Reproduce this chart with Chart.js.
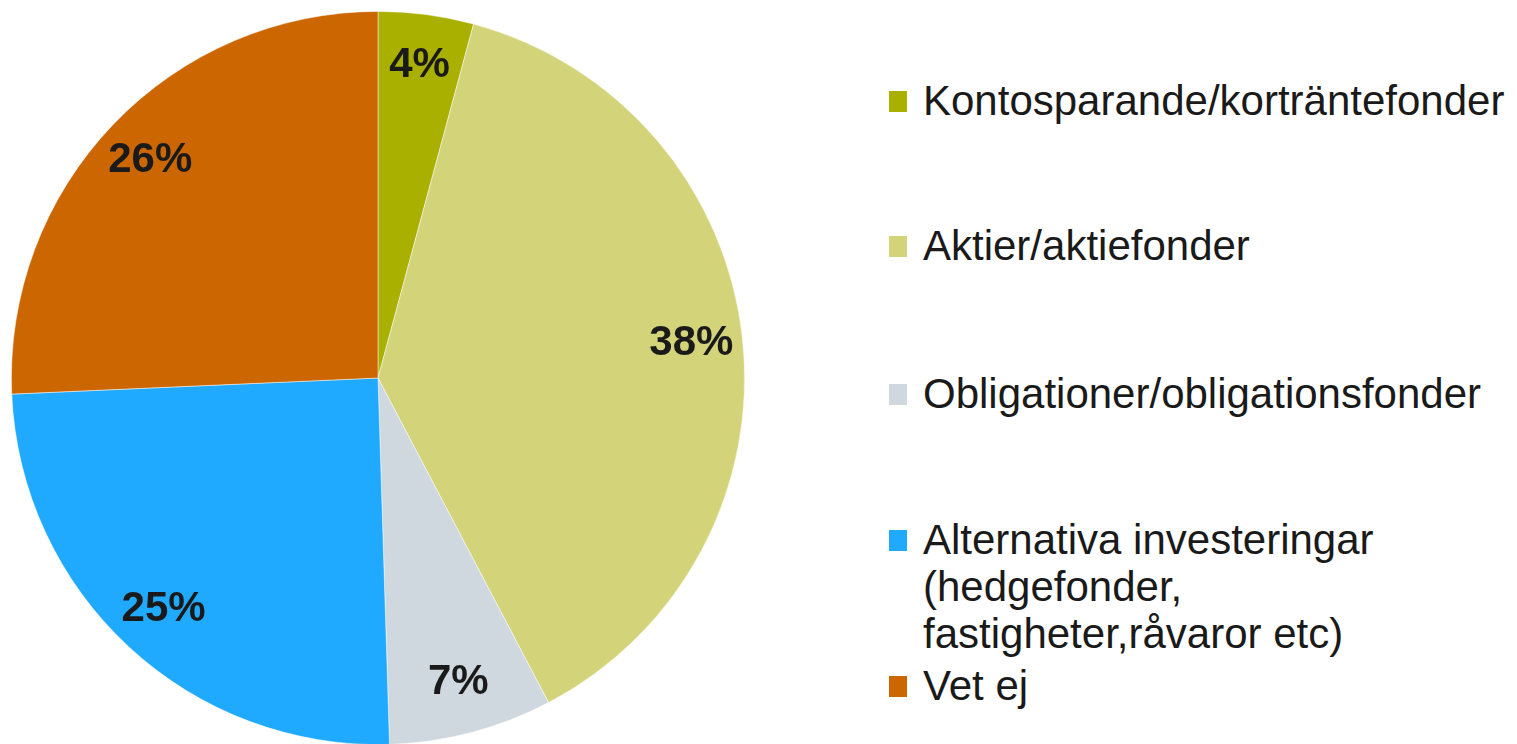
<!DOCTYPE html>
<html>
<head>
<meta charset="utf-8">
<script src="https://cdn.jsdelivr.net/npm/chart.js@4/dist/chart.umd.min.js"></script>
<style>
  html, body { margin: 0; padding: 0; background: #fff; overflow: hidden; }
  body { width: 1517px; height: 744px; position: relative; font-family: "Liberation Sans", Arial, sans-serif; }
  #wrap { position: absolute; left: 11px; top: 11px; width: 734px; height: 734px; }
  .leg { position: absolute; left: 889px; font-size: 42px; line-height: 47px; color: #1a1a1a; }
  .leg .sw { position: absolute; left: 0; top: 14px; width: 18px; height: 21px; }
  .leg .tx { position: absolute; left: 34px; top: 0; white-space: nowrap; }
</style>
</head>
<body>
<div id="wrap"><canvas id="pie"></canvas></div>
<div id="legend"></div>
<script>
const labels = ['Kontosparande/korträntefonder', 'Aktier/aktiefonder', 'Obligationer/obligationsfonder',
  'Alternativa investeringar (hedgefonder, fastigheter,råvaror etc)', 'Vet ej']
const legendLines = [
  ['Kontosparande/korträntefonder'],
  ['Aktier/aktiefonder'],
  ['Obligationer/obligationsfonder'],
  ['Alternativa investeringar', '(hedgefonder,', 'fastigheter,råvaror etc)'],
  ['Vet ej']
]
const values = [4.2, 38.1, 7.2, 24.8, 25.7]
const shownPct = ['4%', '38%', '7%', '25%', '26%']
const colors = ['#A9B000', '#D3D37A', '#CED8DE', '#1FA9FF', '#CC6600']

// legend rows (top of each block)
const legendTop = [77, 222, 370, 516, 662]
const legend = document.getElementById('legend')
legendLines.forEach((lines, i) => {
  const d = document.createElement('div')
  d.className = 'leg'
  d.style.top = legendTop[i] + 'px'
  d.innerHTML = '<div class="sw" style="background:' + colors[i] + '"></div><div class="tx">' + lines.join('<br>') + '</div>'
  legend.appendChild(d)
})

// draw the % text inside the slices
const pctLabels = {
  id: 'pctLabels',
  afterDatasetsDraw(chart) {
    const ctx = chart.ctx
    const meta = chart.getDatasetMeta(0)
    ctx.save()
    ctx.font = 'bold 42px "Liberation Sans", Arial, sans-serif'
    ctx.fillStyle = '#1a1a1a'
    ctx.textAlign = 'center'
    ctx.textBaseline = 'middle'
    meta.data.forEach((arc, i) => {
      const p = arc.getProps(['x', 'y', 'startAngle', 'endAngle', 'outerRadius'], true)
      const mid = (p.startAngle + p.endAngle) / 2
      const r = p.outerRadius * 0.86
      ctx.fillText(shownPct[i], p.x + Math.cos(mid) * r, p.y + Math.sin(mid) * r)
    })
    ctx.restore()
  }
}

const pie = document.getElementById('pie')
const chart = new Chart(pie, {
  type: 'pie',
  data: {
    labels: labels,
    datasets: [{
      data: values,
      backgroundColor: colors,
      borderColor: 'rgba(255,255,255,0.6)',
      borderWidth: 0.8,
    }]
  },
  options: {
    responsive: true,
    maintainAspectRatio: false,
    animation: false,
    layout: { padding: 0 },
    plugins: {
      legend: { display: false },
      tooltip: { enabled: false },
    }
  },
  plugins: [pctLabels]
})
</script>
</body>
</html>
